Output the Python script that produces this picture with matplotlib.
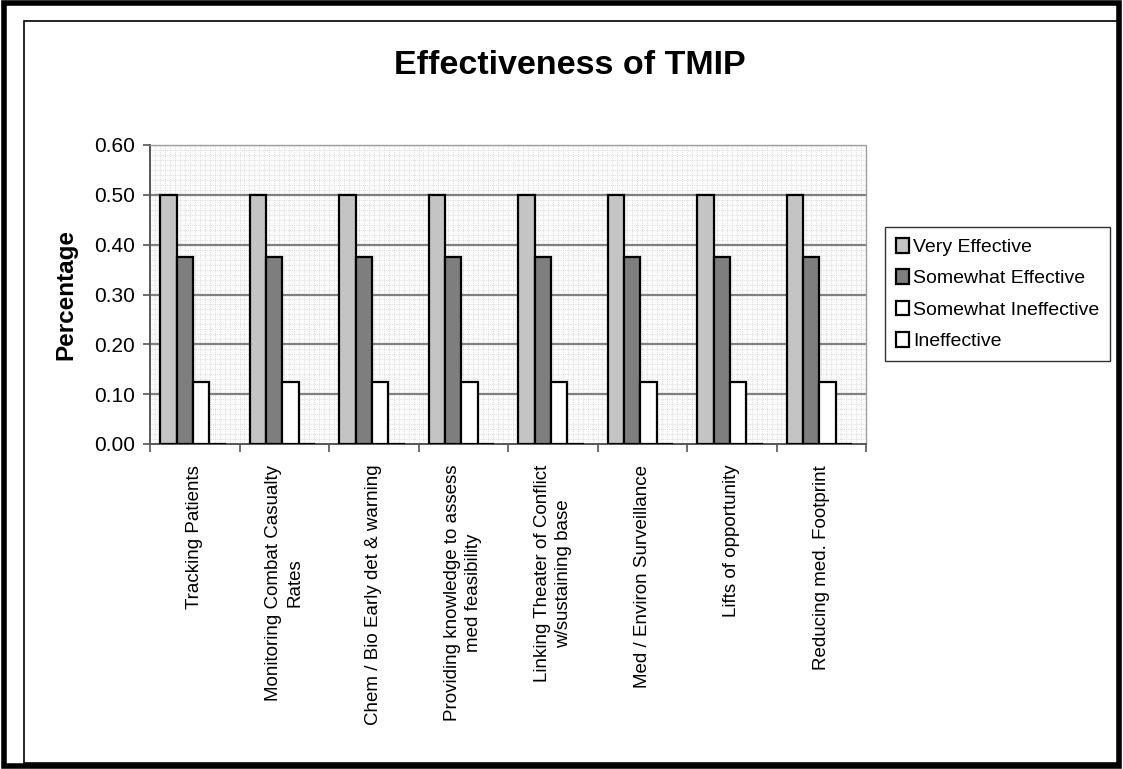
import matplotlib.pyplot as plt
from matplotlib.patches import Rectangle
import numpy as np

plt.rcParams['font.family'] = ['Liberation Sans', 'DejaVu Sans']

categories = [
    "Tracking Patients",
    "Monitoring Combat Casualty\nRates",
    "Chem / Bio Early det & warning",
    "Providing knowledge to assess\nmed feasibility",
    "Linking Theater of Conflict\nw/sustaining base",
    "Med / Environ Surveillance",
    "Lifts of opportunity",
    "Reducing med. Footprint",
]
series_names = ["Very Effective", "Somewhat Effective",
                "Somewhat Ineffective", "Ineffective"]
very_effective = [0.50, 0.50, 0.50, 0.50, 0.50, 0.50, 0.50, 0.50]
somewhat_effective = [0.375, 0.375, 0.375, 0.375, 0.375, 0.375, 0.375, 0.375]
somewhat_ineffective = [0.125, 0.125, 0.125, 0.125, 0.125, 0.125, 0.125, 0.125]
ineffective = [0, 0, 0, 0, 0, 0, 0, 0]
y_ticks = [0.0, 0.1, 0.2, 0.3, 0.4, 0.5, 0.6]

series = [very_effective, somewhat_effective, somewhat_ineffective, ineffective]
colors = ["#c4c4c4", "#7e7e7e", "white", "white"]

fig = plt.figure(figsize=(11.23, 7.69), dpi=100)
ax = fig.add_axes([150 / 1123, 1 - 444 / 769, 716 / 1123, 299 / 769])

# fine dotted background texture
ax.set_facecolor("#fbfbfb")
ax.hlines(np.arange(0.01, 0.6, 0.01), 0, 8, colors="#d4d4d4", lw=0.6,
          linestyles=(0, (1, 1.5)), zorder=0)
ax.vlines(np.arange(0, 8, 1 / 18), 0, 0.6, colors="#d4d4d4", lw=0.6,
          linestyles=(0, (1, 1.5)), zorder=0)
# major gridlines
ax.hlines(y_ticks[1:-1], 0, 8, colors="#808080", lw=1.6, zorder=1)
ax.hlines([0.6], 0, 8, colors="#a0a0a0", lw=1.0, linestyles=(0, (1, 1)), zorder=1)

x = np.arange(len(categories)) + 0.5
w = 1 / 5.5
for k, (vals, col, name) in enumerate(zip(series, colors, series_names)):
    ax.bar(x + (k - 1.5) * w - 0.02, vals, width=w, color=col, edgecolor="black",
           linewidth=1.6, label=name, zorder=3)

ax.set_xlim(0, 8)
ax.set_ylim(0, 0.6)
ax.set_yticks(y_ticks)
ax.set_yticklabels([f"{v:.2f}" for v in y_ticks], fontsize=15)
ax.set_xticks(x)
ax.set_xticklabels(categories, rotation=90, fontsize=13.5, va="top",
                   multialignment="center", linespacing=1.3)
ax.set_xticks(np.arange(0, 9), minor=True)
ax.tick_params(axis="x", which="major", length=0, pad=15)
ax.tick_params(axis="x", which="minor", length=6, width=1.2, color="#555555",
               direction="out")
ax.tick_params(axis="y", length=5, width=1.2, color="#555555", pad=6)

for side in ["top", "right"]:
    ax.spines[side].set_color("#a0a0a0")
    ax.spines[side].set_linestyle((0, (1, 1)))
    ax.spines[side].set_linewidth(1.0)
for side in ["left", "bottom"]:
    ax.spines[side].set_color("#555555")
    ax.spines[side].set_linewidth(1.4)

ax.set_ylabel("Percentage", fontsize=17.5, fontweight="bold", labelpad=12)
fig.text(570 / 1123, 1 - 66 / 769, "Effectiveness of TMIP", fontsize=24.5,
         fontweight="bold", ha="center", va="center")

leg = ax.legend(loc="upper left", bbox_to_anchor=(885 / 1123, 1 - 227 / 769),
                bbox_transform=fig.transFigure, fontsize=14, frameon=True,
                fancybox=False, edgecolor="black", handlelength=0.7,
                handleheight=0.8, handletextpad=0.2, labelspacing=0.68,
                borderpad=0.55, borderaxespad=0)
leg.get_frame().set_linewidth(1.0)

# outer frames
fig.patches.append(Rectangle((0.004, 0.004), 0.992, 0.992, transform=fig.transFigure,
                             fill=False, edgecolor="black", lw=4))
fig.patches.append(Rectangle((24 / 1123, 1 - 763 / 769), 1094 / 1123, 742 / 769,
                             transform=fig.transFigure, fill=False,
                             edgecolor="black", lw=1.2))

fig.savefig("out.png", dpi=100)
